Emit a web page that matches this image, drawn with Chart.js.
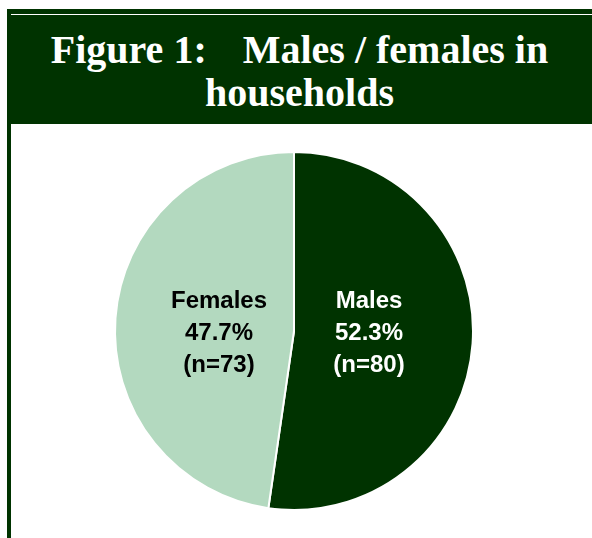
<!DOCTYPE html>
<html>
<head>
<meta charset="utf-8">
<script src="https://cdn.jsdelivr.net/npm/chart.js@4"></script>
<style>
    body {
        margin: 0;
        width: 592px;
        height: 538px;
        background: #fff;
        position: relative;
        overflow: hidden;
    }
    .bar {
        position: absolute;
        left: 7px;
        top: 9px;
        width: 585px;
        height: 115px;
        background: #003300;
    }
    .bar .rule {
        position: absolute;
        left: 4px;
        right: 0;
        top: 5px;
        height: 1px;
        background: #fff;
    }
    .bar .title {
        position: absolute;
        left: 0;
        right: 0;
        top: 19px;
        text-align: center;
        color: #fff;
        font-family: "Liberation Serif", "Times New Roman", serif;
        font-weight: bold;
        font-size: 40px;
        line-height: 43px;
        white-space: pre;
    }
    .gap {
        display: inline-block;
        width: 36px;
    }
    .side {
        position: absolute;
        left: 7px;
        top: 124px;
        width: 4px;
        height: 414px;
        background: #003300;
    }
    .wrap {
        position: absolute;
        left: 11px;
        top: 124px;
        width: 566px;
        height: 414px;
    }
</style>
</head>
<body>
<div class="bar">
    <div class="rule"></div>
    <div class="title">Figure 1:<span class="gap"></span>Males / females in<br>households</div>
</div>
<div class="side"></div>
<div class="wrap"><canvas id="GenderChart"></canvas></div>

<script>
const categories = ["Males", "Females"];
const counts = [80, 73];
const sliceColors = ["#003300", "#b3d9bf"];
const labelColors = ["#ffffff", "#000000"];

// writes name, percent and n inside each slice
const sliceLabels = {
    id: "sliceLabels",
    afterDatasetsDraw(chart) {
        const ctx = chart.ctx;
        const meta = chart.getDatasetMeta(0);
        const total = counts.reduce((a, b) => a + b, 0);

        ctx.save();
        ctx.font = "bold 24px 'Liberation Sans', Arial, sans-serif";
        ctx.textAlign = "center";
        ctx.textBaseline = "middle";

        meta.data.forEach((arc, i) => {
            const p = arc.getProps(["x", "y", "startAngle", "endAngle", "outerRadius"], true);
            const mid = (p.startAngle + p.endAngle) / 2;
            const x = p.x + Math.cos(mid) * p.outerRadius * 0.42;
            const y = p.y + 2;
            const pct = (counts[i] / total * 100).toFixed(1) + "%";

            ctx.fillStyle = labelColors[i];
            ctx.fillText(categories[i], x, y - 32);
            ctx.fillText(pct, x, y);
            ctx.fillText("(n=" + counts[i] + ")", x, y + 32);
        });
        ctx.restore();
    },
};

function GenderChart() {
    const ctx = document.getElementById("GenderChart");

    new Chart(ctx, {
        type: "pie",
        data: {
            labels: categories,
            datasets: [
                {
                    data: counts,
                    backgroundColor: sliceColors,
                    borderColor: "#ffffff",
                    borderWidth: 2,
                },
            ],
        },
        options: {
            responsive: true,
            maintainAspectRatio: false,
            animation: false,
            layout: {
                padding: { top: 27, bottom: 27 }
            },
            plugins: {
                legend: { display: false },
                tooltip: { enabled: false },
            },
        },
        plugins: [sliceLabels],
    });
}

GenderChart();
</script>
</body>
</html>
